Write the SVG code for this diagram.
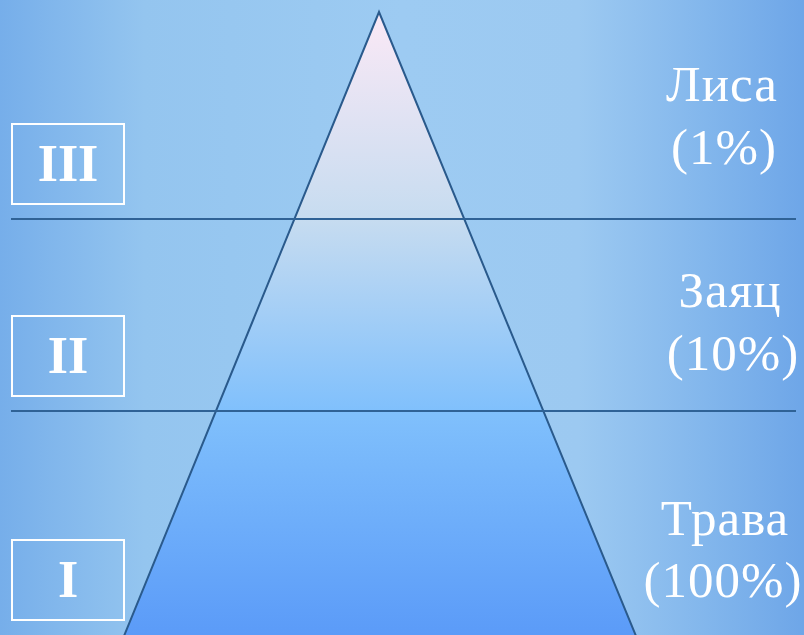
<svg xmlns="http://www.w3.org/2000/svg" width="804" height="635" viewBox="0 0 804 635">
  <defs>
    <linearGradient id="bg" x1="0" y1="0" x2="1" y2="0">
      <stop offset="0" stop-color="#76aeea"/>
      <stop offset="0.18" stop-color="#94c5ef"/>
      <stop offset="0.5" stop-color="#9dcbf2"/>
      <stop offset="0.72" stop-color="#9cc9f1"/>
      <stop offset="0.88" stop-color="#82b6ec"/>
      <stop offset="1" stop-color="#6ea6e8"/>
    </linearGradient>
    <linearGradient id="pyr" gradientUnits="userSpaceOnUse" x1="0" y1="12" x2="0" y2="635">
      <stop offset="0" stop-color="#fbe9f6"/>
      <stop offset="0.33" stop-color="#c7dcf0"/>
      <stop offset="0.64" stop-color="#80c0fc"/>
      <stop offset="1" stop-color="#5b9bf8"/>
    </linearGradient>
    <style>
      .box { fill: none; stroke: #ffffff; stroke-width: 2; }
      .num { font-family: "Liberation Serif", "Times New Roman", serif; font-weight: bold; font-size: 52px; fill: #ffffff; text-anchor: middle; }
      .lbl { font-family: "Liberation Serif", "Times New Roman", serif; font-size: 51px; letter-spacing: 1px; fill: #ffffff; text-anchor: middle; }
      .sep { stroke: #2f6296; stroke-width: 2; }
    </style>
  </defs>
  <rect x="0" y="0" width="804" height="635" fill="url(#bg)"/>
  <g id="pyramid">
    <polygon points="379,12 636,636 124,636" fill="url(#pyr)" stroke="#2a5a8c" stroke-width="2" stroke-linejoin="miter"/>
  </g>
  <g id="connectors">
    <line class="sep" x1="11" y1="219" x2="796" y2="219"/>
    <line class="sep" x1="11" y1="411" x2="796" y2="411"/>
  </g>
  <g id="level-3">
    <rect class="box" x="12" y="124" width="112" height="80"/>
    <text class="num" x="68" y="181">III</text>
    <text class="lbl" x="722" y="101">Лиса</text>
    <text class="lbl" x="724" y="164">(1%)</text>
  </g>
  <g id="level-2">
    <rect class="box" x="12" y="316" width="112" height="80"/>
    <text class="num" x="68" y="373">II</text>
    <text class="lbl" x="730" y="307">Заяц</text>
    <text class="lbl" x="733" y="370">(10%)</text>
  </g>
  <g id="level-1">
    <rect class="box" x="12" y="540" width="112" height="80"/>
    <text class="num" x="68" y="597">I</text>
    <text class="lbl" x="725" y="535">Трава</text>
    <text class="lbl" x="723" y="597">(100%)</text>
  </g>
</svg>
